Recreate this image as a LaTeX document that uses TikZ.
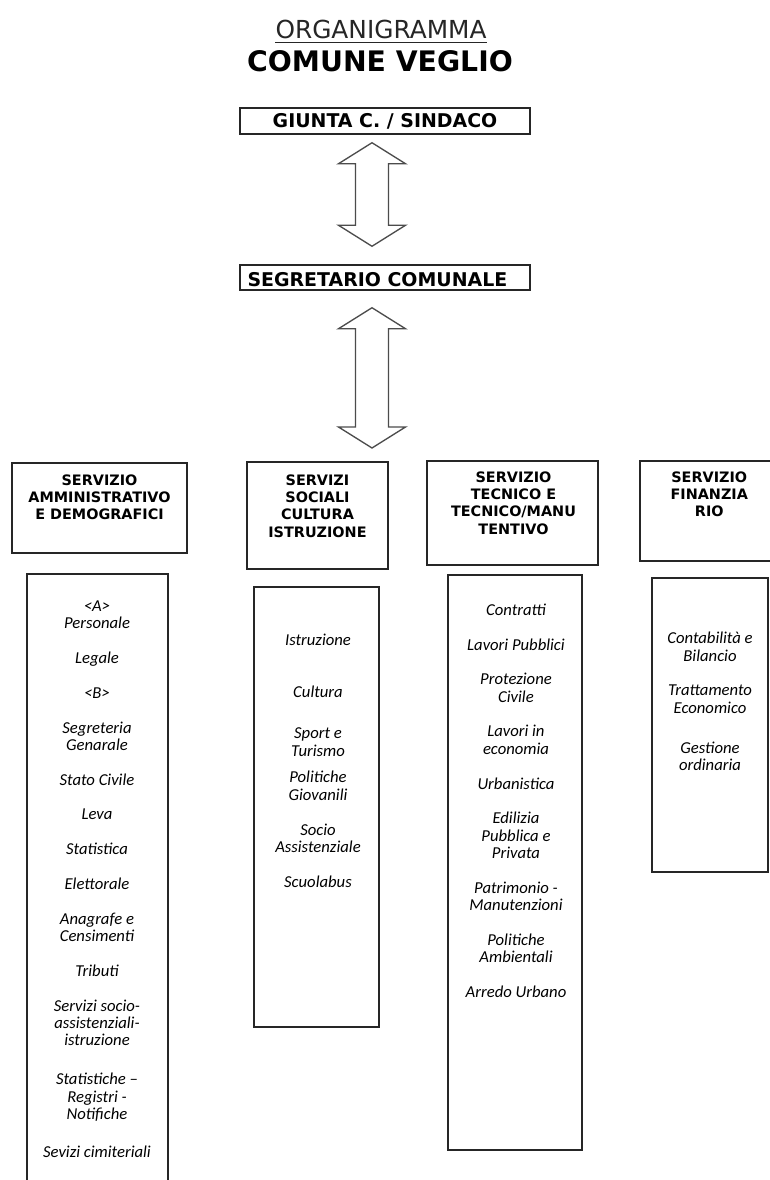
\documentclass[tikz,border=0pt]{standalone}
\usepackage{fontspec}
\setmainfont{DejaVu Sans}
\newfontfamily\itemfont{Carlito}
\usetikzlibrary{positioning,calc,fit}

\tikzset{
  unitbox/.style={draw=black!85, line width=1.1pt, inner sep=0pt},
  boxtitle/.style={font=\bfseries\fontsize{10.8}{13}\selectfont, align=center, inner sep=0pt, anchor=north},
  itemlist/.style={font=\itemfont\itshape\fontsize{12.5}{13.05}\selectfont, align=center, inner sep=0pt, anchor=north},
  hollow/.style={draw=black!70, line width=1pt, line join=miter},
}

% hollow double arrow between two tips
\newcommand{\bigarrow}[2]{%
  \draw[hollow] (#1) -- ($(#1)+(33.5,21)$) -- ($(#1)+(16.5,21)$) -- ($(#2)+(16.5,-21)$)
    -- ($(#2)+(33.5,-21)$) -- (#2) -- ($(#2)+(-33.5,-21)$) -- ($(#2)+(-16.5,-21)$)
    -- ($(#1)+(-16.5,21)$) -- ($(#1)+(-33.5,21)$) -- cycle;}

\begin{document}
\begin{tikzpicture}[x=0.75pt,y=-0.75pt]

  \path[use as bounding box, fill=white] (0,0) rectangle (770,1180);
  \clip (0,0) rectangle (770,1180);

  % Title
  \node[font=\fontsize{18.6}{20}\selectfont, inner sep=0pt, text=black!85] (orga) at (381,29) {ORGANIGRAMMA};
  \draw[line width=0.8pt, black!85] ($(orga.south west)+(0,4)$) -- ($(orga.south east)+(0,4)$);
  \node[font=\bfseries\fontsize{21.2}{24}\selectfont, inner sep=0pt] (comune) at (380,61) {COMUNE VEGLIO};

  % Top boxes
  \node[unitbox, fit={(240,108) (530,134)}] (giunta) {};
  \node[font=\bfseries\fontsize{14.2}{16}\selectfont, inner sep=0pt] (giuntatxt) at (giunta.center) {GIUNTA C. / SINDACO};
  \node[unitbox, fit={(240,265) (530,290)}] (segr) {};
  \node[font=\bfseries\fontsize{14.2}{16}\selectfont, inner sep=0pt, anchor=west] (segrtxt) at ($(segr.west)+(8,2)$) {SEGRETARIO COMUNALE};

  % Services
  \node[unitbox, fit={(12,463) (187,553)}] (adm) {};
  \node[unitbox, fit={(247,462) (388,569)}] (soc) {};
  \node[unitbox, fit={(427,461) (598,565)}] (tec) {};
  \node[unitbox, fit={(640,461) (772,561)}] (fin) {};

  \node[boxtitle] (admtxt) at ($(adm.north)+(0,12)$) {SERVIZIO\\AMMINISTRATIVO\\E DEMOGRAFICI};
  \node[boxtitle] (soctxt) at ($(soc.north)+(0,13)$) {SERVIZI\\SOCIALI\\CULTURA\\ISTRUZIONE};
  \node[boxtitle] (tectxt) at ($(tec.north)+(1,11)$) {SERVIZIO\\TECNICO E\\TECNICO/MANU\\TENTIVO};
  \node[boxtitle] (fintxt) at ($(fin.north west)+(70,11)$) {SERVIZIO\\FINANZIA\\RIO};

  % Offices
  \node[unitbox, fit={(27,574) (168,1200)}] (admbox) {};
  \node[unitbox, fit={(254,587) (379,1027)}] (socbox) {};
  \node[unitbox, fit={(448,575) (582,1150)}] (tecbox) {};
  \node[unitbox, fit={(652,578) (768,872)}] (finbox) {};

  \node[itemlist] (admlist) at (97,600.5) {<A>\\Personale\\[13pt]Legale\\[13pt]<B>\\[13pt]Segreteria\\Genarale\\[13pt]Stato Civile\\[13pt]Leva\\[13pt]Statistica\\[13pt]Elettorale\\[13pt]Anagrafe e\\Censimenti\\[13pt]Tributi\\[13pt]Servizi socio-\\assistenziali-\\istruzione\\[16.2pt]Statistiche –\\Registri -\\Notifiche\\[15.6pt]Sevizi cimiteriali};
  \node[itemlist] (soclist) at (318,633.5) {Istruzione\\[26.1pt]Cultura\\[18pt]Sport e\\Turismo\\[7pt]Politiche\\Giovanili\\[13pt]Socio\\Assistenziale\\[13pt]Scuolabus};
  \node[itemlist] (teclist) at (516,603.5) {Contratti\\[13pt]Lavori Pubblici\\[13pt]Protezione\\Civile\\[13pt]Lavori in\\economia\\[13pt]Urbanistica\\[13pt]Edilizia\\Pubblica e\\Privata\\[13pt]Patrimonio -\\Manutenzioni\\[13pt]Politiche\\Ambientali\\[13pt]Arredo Urbano};
  \node[itemlist] (finlist) at (710,632) {Contabilità e\\Bilancio\\[13pt]Trattamento\\Economico\\[17pt]Gestione\\ordinaria};

  % Arrows
  \coordinate (up1) at ($(giunta.south)+(-13,8)$);
  \coordinate (dn1) at ($(segr.north)+(-13,-18)$);
  \coordinate (up2) at ($(segr.south)+(-13,17)$);
  \coordinate (dn2) at (372,448);
  \bigarrow{up1}{dn1}
  \bigarrow{up2}{dn2}

\end{tikzpicture}
\end{document}
